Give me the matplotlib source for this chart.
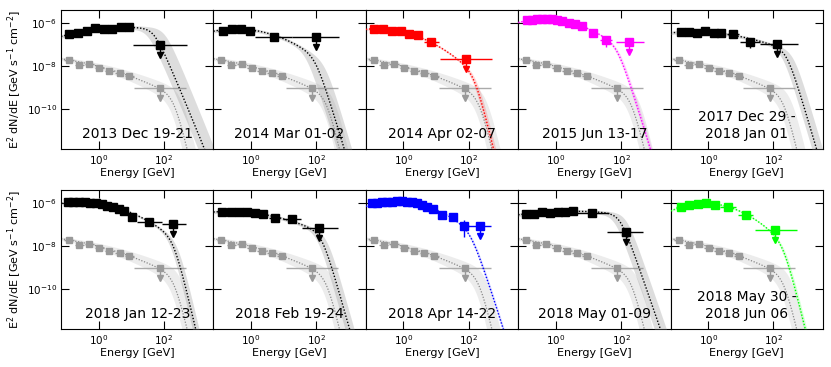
import numpy as np
import matplotlib
matplotlib.use("Agg")
import matplotlib.pyplot as plt
from matplotlib.ticker import FixedLocator, NullLocator

# ---------------- data ----------------
panel_labels = ["2013 Dec 19-21", "2014 Mar 01-02", "2014 Apr 02-07", "2015 Jun 13-17",
                "2017 Dec 29 -\n2018 Jan 01",
                "2018 Jan 12-23", "2018 Feb 19-24", "2018 Apr 14-22", "2018 May 01-09",
                "2018 May 30 -\n2018 Jun 06"]
panel_colors = ["black", "black", "#ff0000", "#ff00ff", "black",
                "black", "black", "#0000ff", "black", "#00ff00"]

# flare-state SED points: energy [GeV], E^2 dN/dE [GeV s^-1 cm^-2]
energy = [
    [0.124, 0.229, 0.436, 0.783, 1.42, 2.57, 4.90, 8.71],
    [0.135, 0.257, 0.490, 0.933, 4.90],
    [0.126, 0.243, 0.460, 0.836, 1.51, 2.72, 7.08],
    [0.128, 0.183, 0.261, 0.372, 0.531, 0.757, 1.08, 1.54, 2.45, 3.96, 6.38, 13.6, 35.2],
    [0.145, 0.257, 0.447, 0.813, 1.45, 2.51, 5.75, 18.6],
    [0.112, 0.166, 0.251, 0.372, 0.556, 0.832, 1.23, 1.86, 2.75, 4.07, 6.17, 10.7, 35.5],
    [0.126, 0.240, 0.427, 0.767, 1.32, 2.40, 5.37, 17.8],
    [0.106, 0.151, 0.215, 0.305, 0.437, 0.619, 0.881, 1.26, 1.79, 2.54, 3.62, 5.15, 7.87, 14.8, 33.9, 74.1],
    [0.121, 0.219, 0.385, 0.661, 1.14, 1.91, 3.31, 13.2],
    [0.143, 0.257, 0.474, 0.853, 1.61, 4.12, 14.1],
]
flux = [
    [3.16e-7, 3.39e-7, 4.47e-7, 5.89e-7, 5.37e-7, 5.37e-7, 6.46e-7, 6.46e-7],
    [4.47e-7, 5.37e-7, 5.37e-7, 4.37e-7, 2.34e-7],
    [5.37e-7, 5.37e-7, 4.47e-7, 4.47e-7, 3.16e-7, 2.82e-7, 1.29e-7],
    [1.38e-6, 1.48e-6, 1.55e-6, 1.58e-6, 1.58e-6, 1.55e-6, 1.38e-6, 1.23e-6, 1.02e-6, 9.33e-7, 7.76e-7, 3.55e-7, 1.62e-7],
    [4.07e-7, 4.07e-7, 3.63e-7, 4.47e-7, 3.39e-7, 3.63e-7, 3.16e-7, 1.38e-7],
    [1.12e-6, 1.12e-6, 1.17e-6, 1.17e-6, 1.07e-6, 1.07e-6, 9.33e-7, 7.76e-7, 6.46e-7, 5.25e-7, 4.47e-7, 2.34e-7, 1.29e-7],
    [4.07e-7, 4.07e-7, 3.80e-7, 3.80e-7, 3.63e-7, 3.09e-7, 2.14e-7, 1.78e-7],
    [1.0e-6, 1.07e-6, 1.12e-6, 1.17e-6, 1.17e-6, 1.29e-6, 1.32e-6, 1.17e-6, 1.12e-6, 1.0e-6, 8.32e-7, 6.92e-7, 5.37e-7, 2.82e-7, 2.24e-7, 8.91e-8],
    [3.09e-7, 3.16e-7, 3.80e-7, 3.63e-7, 3.80e-7, 4.07e-7, 4.47e-7, 3.39e-7],
    [6.92e-7, 8.32e-7, 9.33e-7, 1.0e-6, 8.32e-7, 6.92e-7, 2.82e-7],
]
# half bin widths (decades)
xerr_dex = [
    [0.13, 0.13, 0.13, 0.13, 0.13, 0.13, 0.13, 0.13],
    [0.14, 0.14, 0.14, 0.14, 0.57],
    [0.13, 0.13, 0.13, 0.13, 0.13, 0.13, 0.23],
    [0.08, 0.08, 0.08, 0.08, 0.08, 0.08, 0.08, 0.08, 0.08, 0.08, 0.08, 0.12, 0.18],
    [0.12, 0.12, 0.12, 0.12, 0.12, 0.12, 0.18, 0.31],
    [0.09, 0.09, 0.09, 0.09, 0.09, 0.09, 0.09, 0.09, 0.09, 0.09, 0.09, 0.09, 0.38],
    [0.12, 0.12, 0.12, 0.12, 0.12, 0.12, 0.17, 0.28],
    [0.08, 0.08, 0.08, 0.08, 0.08, 0.08, 0.08, 0.08, 0.08, 0.08, 0.08, 0.08, 0.08, 0.12, 0.12, 0.15],
    [0.12, 0.12, 0.12, 0.12, 0.12, 0.12, 0.12, 0.50],
    [0.13, 0.13, 0.13, 0.13, 0.13, 0.25, 0.23],
]
# flux errors (decades, lower / upper)
yerr_lo_dex = [
    [0.04, 0.04, 0.04, 0.04, 0.04, 0.04, 0.04, 0.04],
    [0.04, 0.04, 0.04, 0.04, 0.08],
    [0.04, 0.04, 0.04, 0.04, 0.04, 0.04, 0.06],
    [0.03, 0.03, 0.03, 0.03, 0.03, 0.03, 0.03, 0.03, 0.03, 0.03, 0.04, 0.06, 0.33],
    [0.04, 0.04, 0.04, 0.04, 0.04, 0.04, 0.06, 0.28],
    [0.03, 0.03, 0.03, 0.03, 0.03, 0.03, 0.03, 0.03, 0.03, 0.03, 0.04, 0.05, 0.10],
    [0.04, 0.04, 0.04, 0.04, 0.04, 0.04, 0.06, 0.10],
    [0.03, 0.03, 0.03, 0.03, 0.03, 0.03, 0.03, 0.03, 0.03, 0.03, 0.03, 0.03, 0.04, 0.05, 0.08, 0.51],
    [0.04, 0.04, 0.04, 0.04, 0.04, 0.04, 0.04, 0.08],
    [0.03, 0.03, 0.03, 0.03, 0.03, 0.05, 0.08],
]
yerr_hi_dex = [
    [0.04, 0.04, 0.04, 0.04, 0.04, 0.04, 0.04, 0.04],
    [0.04, 0.04, 0.04, 0.04, 0.07],
    [0.04, 0.04, 0.04, 0.04, 0.04, 0.04, 0.05],
    [0.03, 0.03, 0.03, 0.03, 0.03, 0.03, 0.03, 0.03, 0.03, 0.03, 0.04, 0.05, 0.14],
    [0.04, 0.04, 0.04, 0.04, 0.04, 0.04, 0.05, 0.16],
    [0.03, 0.03, 0.03, 0.03, 0.03, 0.03, 0.03, 0.03, 0.03, 0.03, 0.04, 0.05, 0.08],
    [0.04, 0.04, 0.04, 0.04, 0.04, 0.04, 0.05, 0.08],
    [0.03, 0.03, 0.03, 0.03, 0.03, 0.03, 0.03, 0.03, 0.03, 0.03, 0.03, 0.03, 0.04, 0.05, 0.07, 0.27],
    [0.04, 0.04, 0.04, 0.04, 0.04, 0.04, 0.04, 0.07],
    [0.03, 0.03, 0.03, 0.03, 0.03, 0.05, 0.07],
]
# upper limits
ul_energy = [75.9, 95.5, 81.3, 175.0, 132.0, 195.0, 120.0, 224.0, 138.0, 112.0]
ul_flux = [9.8e-8, 2.24e-7, 2.14e-8, 1.35e-7, 1.07e-7, 1.07e-7, 6.76e-8, 8.91e-8, 4.68e-8, 5.62e-8]
ul_xlo_dex = [0.82, 0.72, 0.80, 0.41, 0.52, 0.36, 0.53, 0.41, 0.58, 0.62]
ul_xhi_dex = [0.82, 0.72, 0.79, 0.47, 0.62, 0.38, 0.60, 0.33, 0.54, 0.66]

# model (curved spectrum with high-energy softening) parameters per panel
fit_logF0 = [-6.19, -6.26, -6.25, -5.80, -6.40, -5.93, -6.38, -5.89, -6.37, -6.00]
fit_logEpk = [0.9, -0.45, -0.8, -0.35, -0.5, -0.6, -0.7, -0.2, 0.5, -0.1]
fit_curv = [0.10, 0.22, 0.235, 0.25, 0.10, 0.20, 0.12, 0.28, 0.06, 0.32]
fit_logEbrk = [1.69, 1.97, 2.18, 1.89, 2.41, 2.30, 2.17, 2.06, 1.97, 2.30]
fit_dslope = [3.3, 3.6, 4.5, 3.4, 4.4, 5.0, 4.5, 3.0, 4.1, 4.2]
band_dF = [0.08, 0.08, 0.05, 0.04, 0.08, 0.06, 0.08, 0.03, 0.08, 0.04]
band_up = [0.33, 0.30, 0.08, 0.06, 0.20, 0.12, 0.15, 0.04, 0.18, 0.06]
band_lo = [0.20, 0.30, 0.08, 0.06, 0.15, 0.12, 0.15, 0.04, 0.18, 0.06]

# reference (quiescent) spectrum, grey, same in every panel
ref_energy = [0.123, 0.251, 0.513, 1.05, 2.14, 4.37, 8.71]
ref_flux = [1.95e-8, 1.12e-8, 1.20e-8, 7.94e-9, 5.89e-9, 4.57e-9, 3.55e-9]
ref_xerr_dex = [0.14, 0.14, 0.14, 0.14, 0.14, 0.14, 0.14]
ref_ul_energy = 75.9
ref_ul_flux = 9.8e-10
ref_ul_xlo_dex = 0.80
ref_ul_xhi_dex = 0.79
ref_fit = [-7.51, -2.5, 0.08, 2.32, 5.5]
ref_band = [0.05, 0.20, 0.10, 0.015]

xlim = (0.07, 3300)
ylim = (1.35e-12, 4.2e-6)


def model(x, F0, xp, b, xb, d, w=0.3):
    return F0 - b * (x - xp) ** 2 - d * w * np.log10(1 + 10 ** ((x - xb) / w))


def dex_err(vals, lo, hi):
    v = np.asarray(vals, float)
    return np.vstack([v - v / 10 ** np.asarray(lo), v * 10 ** np.asarray(hi) - v])


fig = plt.figure(figsize=(8.31, 3.67), dpi=100)
W, H = 831, 367
left0, pw = 61, 152.4
rows_top = [10, 190]
ph = 139
xgrid = np.linspace(np.log10(xlim[0]), np.log10(xlim[1]), 500)
Eg = 10 ** xgrid
grey = "#999999"
dots = (0, (1, 1.3))

for i in range(10):
    r, c = divmod(i, 5)
    ax = fig.add_axes([(left0 + c * pw) / W, 1 - (rows_top[r] + ph) / H, pw / W, ph / H])
    ax.set_xscale("log")
    ax.set_yscale("log")
    col = panel_colors[i]

    # reference model + band
    F0, xp, b, xb, d = ref_fit
    dF, du, dl, db = ref_band
    ax.fill_between(Eg, 10 ** model(xgrid, F0 + dF, xp, b - db, xb + du, d),
                    10 ** model(xgrid, F0 - dF, xp, b + db, xb - dl, d),
                    color="#bbbbbb", alpha=0.28, lw=0, zorder=1)
    ax.plot(Eg, 10 ** model(xgrid, *ref_fit), ls=dots, color="#888888", lw=0.9, zorder=2)
    ax.errorbar(ref_energy, ref_flux,
                xerr=dex_err(ref_energy, ref_xerr_dex, ref_xerr_dex),
                yerr=dex_err(ref_flux, [0.03] * 7, [0.03] * 7),
                fmt="s", ms=4, color=grey, mec=grey, ecolor=grey, elinewidth=1, capsize=0, zorder=3)
    ax.errorbar([ref_ul_energy], [ref_ul_flux],
                xerr=dex_err([ref_ul_energy], [ref_ul_xlo_dex], [ref_ul_xhi_dex]),
                fmt="s", ms=4.5, color=grey, ecolor="#aaaaaa", elinewidth=1, capsize=0, zorder=3)
    ax.plot([ref_ul_energy, ref_ul_energy], [ref_ul_flux, ref_ul_flux / 10 ** 0.42], color=grey, lw=1, zorder=3)
    ax.plot([ref_ul_energy], [ref_ul_flux / 10 ** 0.47], marker="v", ms=4.5, color=grey, zorder=3)

    # flare model + band
    pars = (fit_logF0[i], fit_logEpk[i], fit_curv[i], fit_logEbrk[i], fit_dslope[i])
    up = model(xgrid, pars[0] + band_dF[i], pars[1], pars[2], pars[3] + band_up[i], pars[4])
    lo = model(xgrid, pars[0] - band_dF[i], pars[1], pars[2], pars[3] - band_lo[i], pars[4])
    if col == "black":
        ax.fill_between(Eg, 10 ** up, 10 ** lo, color="#888888", alpha=0.28, lw=0, zorder=4)
    else:
        ax.fill_between(Eg, 10 ** up, 10 ** lo, color=col, alpha=0.16, lw=0, zorder=4)
    ax.plot(Eg, 10 ** model(xgrid, *pars), ls=dots, color=col, lw=1.0, zorder=5)

    ax.errorbar(energy[i], flux[i],
                xerr=dex_err(energy[i], xerr_dex[i], xerr_dex[i]),
                yerr=dex_err(flux[i], yerr_lo_dex[i], yerr_hi_dex[i]),
                fmt="s", ms=5.5, color=col, ecolor=col, elinewidth=1, capsize=0, zorder=6)
    ue, uf = ul_energy[i], ul_flux[i]
    ax.errorbar([ue], [uf], xerr=dex_err([ue], [ul_xlo_dex[i]], [ul_xhi_dex[i]]),
                fmt="s", ms=5.5, color=col, ecolor=col, elinewidth=1, capsize=0, zorder=6)
    ax.plot([ue, ue], [uf, uf / 10 ** 0.42], color=col, lw=1, zorder=6)
    ax.plot([ue], [uf / 10 ** 0.47], marker="v", ms=5, color=col, zorder=6)

    ax.set_xlim(*xlim)
    ax.set_ylim(*ylim)
    ax.xaxis.set_major_locator(FixedLocator([1, 100]))
    ax.yaxis.set_major_locator(FixedLocator([1e-10, 1e-8, 1e-6]))
    ax.xaxis.set_minor_locator(NullLocator())
    ax.yaxis.set_minor_locator(NullLocator())
    ax.tick_params(which="both", direction="in", top=True, right=True, length=6, width=0.8,
                   labelsize=7.5, pad=3)
    if c != 0:
        ax.tick_params(labelleft=False)
    else:
        ax.set_ylabel("E$^2$ dN/dE [GeV s$^{-1}$ cm$^{-2}$]", fontsize=8, labelpad=2)
    ax.set_xlabel("Energy [GeV]", fontsize=8, labelpad=1)
    ax.text(0.5, 0.06, panel_labels[i], transform=ax.transAxes, ha="center", va="bottom",
            multialignment="center", fontsize=10, zorder=10)

fig.savefig("out.png", dpi=100)
